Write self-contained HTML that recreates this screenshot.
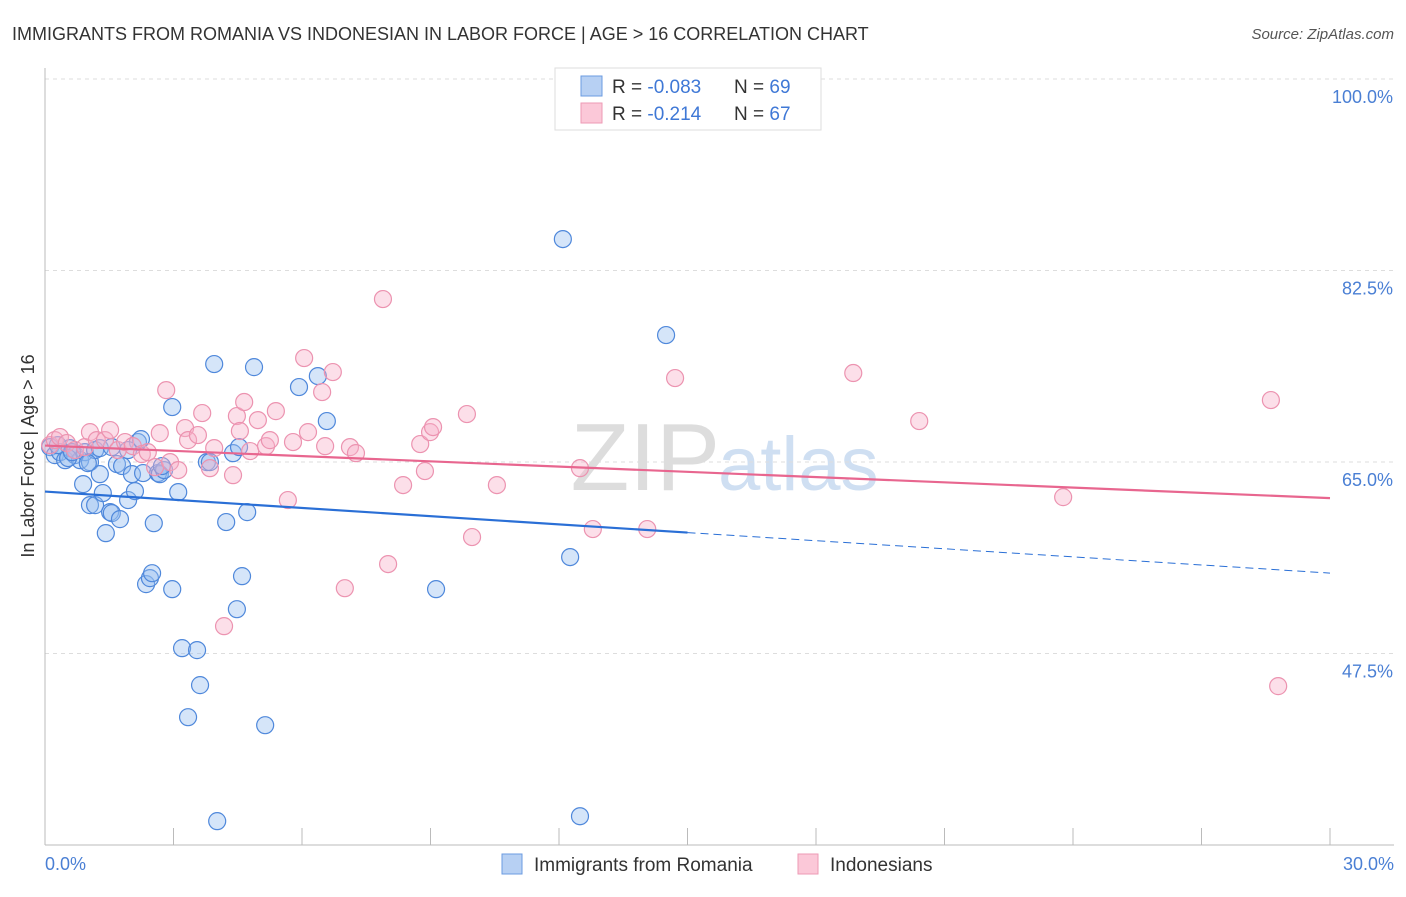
<!DOCTYPE html>
<html><head><meta charset="utf-8"><style>
body{margin:0;background:#fff;font-family:"Liberation Sans",sans-serif;}
svg text{font-family:"Liberation Sans",sans-serif;}
</style></head><body>
<svg id="c" width="1406" height="892">
<text x="12" y="40" font-size="18" fill="#333">IMMIGRANTS FROM ROMANIA VS INDONESIAN IN LABOR FORCE | AGE &gt; 16 CORRELATION CHART</text>
<text x="1394" y="39" font-size="15" fill="#555" text-anchor="end" font-style="italic">Source: ZipAtlas.com</text>
<text x="720" y="490" font-size="96" fill="#ddd" text-anchor="end" font-family="Liberation Serif">ZIP</text>
<text x="718" y="490" font-size="76" fill="#cfdff2">atlas</text>
<g id="grid"></g><g id="axes"></g><g id="pts"></g><g id="lines"></g>
<text transform="translate(34,456) rotate(-90)" font-size="18" fill="#333" text-anchor="middle">In Labor Force | Age &gt; 16</text>
<text x="45" y="870" font-size="18" fill="#4a7fd4">0.0%</text>
<text x="1394" y="870" font-size="18" fill="#4a7fd4" text-anchor="end">30.0%</text>
<g>
<rect x="555" y="68" width="266" height="62" fill="#fff" stroke="#ddd"/>
<rect x="581" y="76" width="21" height="20" fill="#b7d0f3" stroke="#6b9be0"/>
<rect x="581" y="103" width="21" height="20" fill="#fbc8d8" stroke="#ee9ab5"/>
<text x="612" y="93" font-size="19" fill="#333">R = <tspan fill="#3f78d6">-0.083</tspan></text>
<text x="734" y="93" font-size="19" fill="#333">N = <tspan fill="#3f78d6">69</tspan></text>
<text x="612" y="120" font-size="19" fill="#333">R =  <tspan fill="#3f78d6">-0.214</tspan></text>
<text x="734" y="120" font-size="19" fill="#333">N = <tspan fill="#3f78d6">67</tspan></text>
</g>
<g>
<rect x="502" y="854" width="20" height="20" fill="#b7d0f3" stroke="#6b9be0"/>
<text x="534" y="871" font-size="19" fill="#333">Immigrants from Romania</text>
<rect x="798" y="854" width="20" height="20" fill="#fbc8d8" stroke="#ee9ab5"/>
<text x="830" y="871" font-size="19" fill="#333">Indonesians</text>
</g>
</svg>
<script>
const yTicks=[100,82.5,65,47.5];
const yTickLabels=["100.0%","82.5%","65.0%","47.5%"];
const xTicks=[0,3,6,9,12,15,18,21,24,27,30];
const blueX=[0.12,0.23,0.35,0.47,0.58,0.70,0.82,0.93,1.05,1.17,1.28,0.89,1.05,1.17,1.28,1.35,1.42,1.52,1.56,1.68,1.75,1.80,1.94,2.03,2.10,2.17,2.24,2.29,2.36,2.45,2.50,2.54,2.64,2.68,2.78,2.97,2.97,3.11,3.20,3.34,3.55,3.62,3.78,3.95,4.02,4.23,4.39,4.48,4.53,4.60,4.72,4.88,5.14,5.93,6.37,6.58,9.13,12.09,12.26,12.49,14.50,0.30,0.54,0.63,1.00,1.56,1.94,3.85,2.73];
const blueY=[66.36,65.63,65.90,65.17,66.27,65.63,65.17,65.90,64.99,66.09,66.27,62.98,61.06,61.06,63.89,62.16,58.50,60.42,60.33,64.81,59.78,64.63,61.52,63.89,62.34,66.82,67.09,63.99,53.84,54.39,54.84,59.41,63.99,63.89,64.26,53.38,70.02,62.25,47.99,41.68,47.81,44.61,64.99,73.95,32.18,59.51,65.81,51.55,66.36,54.57,60.42,73.67,40.95,71.85,72.85,68.74,53.38,85.37,56.31,32.63,76.60,66.54,65.36,65.90,64.90,66.36,66.09,64.99,64.63];
const pinkX=[.12,.23,.35,.51,.70,.93,1.05,1.21,1.40,1.52,1.70,1.87,2.05,2.26,2.40,2.57,2.68,2.83,2.92,3.11,3.27,3.34,3.57,3.67,3.85,3.95,4.18,4.39,4.48,4.55,4.65,4.79,4.97,5.16,5.25,5.39,5.67,5.79,6.05,6.14,6.47,6.54,6.72,7.00,7.12,7.26,7.89,8.01,8.36,8.76,8.87,8.99,9.06,9.85,9.97,10.55,12.49,12.79,14.06,14.71,18.87,20.41,23.77,28.62,28.79];
const pinkY=[66.54,67.00,67.28,66.73,66.09,66.36,67.73,67.00,67.00,67.92,66.09,66.82,66.45,65.72,65.90,64.53,67.64,71.57,64.99,64.26,68.10,67.00,67.46,69.47,64.44,66.27,50.00,63.80,69.20,67.83,70.48,66.00,68.83,66.45,67.00,69.65,61.52,66.82,74.50,67.73,71.39,66.45,73.22,53.47,66.36,65.81,79.89,55.67,62.89,66.64,64.17,67.73,68.19,69.38,58.14,62.89,64.44,58.87,58.87,72.67,73.13,68.74,61.79,70.66,44.52];
const blueTrend=[62.3,58.55,54.85]; // at x=0,15,30
const pinkTrend=[66.5,61.7]; // at x=0,30
const NS="http://www.w3.org/2000/svg";
const X=v=>45+v*(1285/30), Y=v=>79+(100-v)*(191.5/17.5);
function mk(t,a,p){const e=document.createElementNS(NS,t);for(const k in a)e.setAttribute(k,a[k]);p.appendChild(e);return e;}
const grid=document.getElementById('grid'),axes=document.getElementById('axes'),pts=document.getElementById('pts'),lines=document.getElementById('lines');
yTicks.forEach((t,i)=>{
 const l=mk('line',{x1:45,x2:1394,y1:Y(t),y2:Y(t),stroke:'#ddd','stroke-dasharray':'4,4'},grid);
 
 
 const tx=mk('text',{x:1393,y:Y(t)+24,'font-size':18,fill:'#4a7fd4','text-anchor':'end'},grid);
 tx.textContent=yTickLabels[i];
 
 
});
const ya=mk('line',{x1:45,x2:45,y1:68,y2:845,stroke:'#bbb'},axes);


const xa=mk('line',{x1:45,x2:1394,y1:845,y2:845,stroke:'#bbb'},axes);


xTicks.forEach(t=>{
 const l=mk('line',{x1:X(t),x2:X(t),y1:828,y2:845,stroke:'#bbb'},axes);
 
 
});
blueX.forEach((v,i)=>{
 const c=mk('circle',{cx:X(v),cy:Y(blueY[i]),r:8.5,fill:'rgba(150,190,240,0.4)',stroke:'#4f88db','stroke-width':1.2},pts);
 
 
});
pinkX.forEach((v,i)=>{
 const c=mk('circle',{cx:X(v),cy:Y(pinkY[i]),r:8.5,fill:'rgba(248,175,200,0.4)',stroke:'#ec93b0','stroke-width':1.2},pts);
 
 
});
const b1=mk('line',{x1:X(0),y1:Y(blueTrend[0]),x2:X(15),y2:Y(blueTrend[1]),stroke:'#2a6fd6','stroke-width':2.2},lines);


const b2=mk('line',{x1:X(15),y1:Y(blueTrend[1]),x2:X(30),y2:Y(blueTrend[2]),stroke:'#2a6fd6','stroke-width':1,'stroke-dasharray':'8,5'},lines);


const p1=mk('line',{x1:X(0),y1:Y(pinkTrend[0]),x2:X(30),y2:Y(pinkTrend[1]),stroke:'#e8668f','stroke-width':2.2},lines);


</script>
</body></html>
